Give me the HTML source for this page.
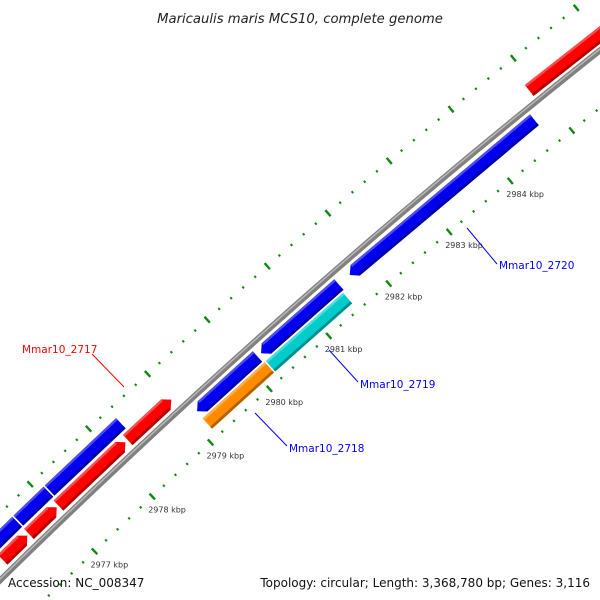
<!DOCTYPE html>
<html><head><meta charset="utf-8"><style>
html,body{margin:0;padding:0;background:#fff;width:600px;height:600px;overflow:hidden}
svg{display:block;overflow:hidden;font-family:"DejaVu Sans","Liberation Sans",sans-serif}
</style></head><body>
<svg id="map" width="600" height="600" viewBox="0 0 600 600" xmlns="http://www.w3.org/2000/svg">
<text x="300" y="23" text-anchor="middle" font-size="13.2" font-style="italic" fill="#222">Maricaulis maris MCS10, complete genome</text>
<g id="ticks"></g>
<g id="backbone"></g>
<g id="genes"></g>
<g>
<line x1="92" y1="354" x2="124" y2="387" stroke="#f00" stroke-width="1"/>
<text x="22" y="353" font-size="10.5" fill="#f00">Mmar10_2717</text>
<line x1="255" y1="413" x2="287" y2="446" stroke="#00f" stroke-width="1"/>
<text x="289" y="452" font-size="10.5" fill="#00f">Mmar10_2718</text>
<line x1="329" y1="350" x2="358" y2="382" stroke="#00f" stroke-width="1"/>
<text x="360" y="388" font-size="10.5" fill="#00f">Mmar10_2719</text>
<line x1="467" y1="228" x2="497" y2="264" stroke="#00f" stroke-width="1"/>
<text x="499" y="269" font-size="10.5" fill="#00f">Mmar10_2720</text>
</g>
<rect x="0" y="570" width="600" height="30" fill="#fff" fill-opacity="0"/>
<text x="8" y="587" font-size="12" fill="#111">Accession: NC_008347</text>
<text x="590" y="587" font-size="12" fill="#111" text-anchor="end">Topology: circular; Length: 3,368,780 bp; Genes: 3,116</text>
</svg>
<script>
// data (kbp)
const tickMajors = [2975, 2976, 2977, 2978, 2979, 2980, 2981, 2982, 2983, 2984, 2985, 2986];
const tickLabels = ["","","2977 kbp","2978 kbp","2979 kbp","2980 kbp","2981 kbp","2982 kbp","2983 kbp","2984 kbp","",""];
const geneStarts = [2976.10, 2976.56, 2977.07, 2978.26, 2984.90, 2975.00, 2976.58, 2977.12, 2979.14, 2980.22, 2981.70, 2979.13, 2980.20];
const geneEnds   = [2976.53, 2977.04, 2978.22, 2979.00, 2988.00, 2976.56, 2977.10, 2978.34, 2980.16, 2981.52, 2984.72, 2980.18, 2981.49];
const geneRows   = [13, 13, 13, 13, 13, 30, 30, 30, -13, -13, -13, -29, -29];
const geneStrand = [1, 1, 1, 1, 1, 0, 0, 0, -1, -1, -1, 0, 0];
const geneColors = ["#ff0000","#ff0000","#ff0000","#ff0000","#ff0000","#0000ee","#0000ee","#0000ee","#0000ee","#0000ee","#0000ee","#ff8c00","#00cccc"];
const geneNames  = ["gene-red-1","gene-red-2","gene-red-3","gene-mmar10-2717","gene-red-top","gene-blue-outer-1","gene-blue-outer-2","gene-blue-outer-3","gene-blue-lower","gene-blue-middle","gene-mmar10-2720","gene-mmar10-2718","gene-mmar10-2719"];

const NS = "http://www.w3.org/2000/svg";
const CX = 5328, CY = 6007, R0 = 7605;
function phi(k){ return (-132 + (k - 2980) * 0.603) * Math.PI / 180; }
function pt(k, r){ const a = phi(k); return [CX + r * Math.cos(a), CY + r * Math.sin(a)]; }
function mk(tag, attrs){ const e = document.createElementNS(NS, tag); for (const k in attrs) e.setAttribute(k, attrs[k]); return e; }
function arcPath(k1, k2, r){ let d = ""; const n = 24; for (let i = 0; i <= n; i++){ const p = pt(k1 + (k2 - k1) * i / n, r); d += (i ? "L" : "M") + p[0].toFixed(2) + "," + p[1].toFixed(2); } return d; }

// backbone
const bb = document.getElementById("backbone");
const b1 = mk("path", {d: arcPath(2974, 2988, R0), fill: "none", stroke: "#808080", "stroke-width": 6});


bb.appendChild(b1);
const b2 = mk("path", {d: arcPath(2974, 2988, R0 + 1), fill: "none", stroke: "#b8b8b8", "stroke-width": 1.5});


bb.appendChild(b2);

// ticks
const tg = document.getElementById("ticks");
const rings = [R0 - 45, R0 + 48];
rings.forEach(function(r, ri){
  tickMajors.forEach(function(m, mi){
    for (let j = 0; j < 5; j++){
      const k = m + j * 0.2;
      const h = j === 0 ? 4 : 1.2;
      const p1 = pt(k, r - h), p2 = pt(k, r + h);
      const l = mk("line", {x1: p1[0], y1: p1[1], x2: p2[0], y2: p2[1], stroke: "#118811", "stroke-width": j === 0 ? 2.4 : 2});
      
      
      tg.appendChild(l);
    }
    if (ri === 0 && tickLabels[mi]){
      const p = pt(m, r);
      const t = mk("text", {x: (p[0] - 4).toFixed(1), y: (p[1] + 16).toFixed(1), "font-size": 8, fill: "#333"});
      t.textContent = tickLabels[mi];
      
      
      tg.appendChild(t);
    }
  });
});

// genes
const gg = document.getElementById("genes");
function shade(c, f){ const n = parseInt(c.slice(1), 16); let r = n >> 16, g = (n >> 8) & 255, b = n & 255;
  if (f > 0){ r += (255 - r) * f; g += (255 - g) * f; b += (255 - b) * f; } else { r *= 1 + f; g *= 1 + f; b *= 1 + f; }
  return "rgb(" + Math.round(r) + "," + Math.round(g) + "," + Math.round(b) + ")"; }
geneStarts.forEach(function(s, i){
  const e = geneEnds[i], rc = R0 + geneRows[i], hw = 7, st = geneStrand[i];
  const ah = 0.09;
  let s2 = s, e2 = e;
  if (st === 1) e2 = e - ah; if (st === -1) s2 = s + ah;
  const pts = [];
  pts.push(pt(s2, rc + hw)); pts.push(pt(e2, rc + hw));
  if (st === 1) pts.push(pt(e, rc));
  pts.push(pt(e2, rc - hw)); pts.push(pt(s2, rc - hw));
  if (st === -1) pts.push(pt(s, rc));
  const d = "M" + pts.map(p => p[0].toFixed(2) + "," + p[1].toFixed(2)).join("L") + "Z";
  const g = mk("g", {});
  
  
  const body = mk("path", {d: d, fill: geneColors[i]});
  g.appendChild(body);
  const hl = mk("path", {d: "M" + pt(s2, rc + hw - 1.2).join(",") + "L" + pt(e2, rc + hw - 1.2).join(","), stroke: shade(geneColors[i], 0.3), "stroke-width": 2.4, fill: "none"});
  g.appendChild(hl);
  const dk = mk("path", {d: "M" + pt(s2, rc - hw + 1.4).join(",") + "L" + pt(e2, rc - hw + 1.4).join(","), stroke: shade(geneColors[i], -0.3), "stroke-width": 2.8, fill: "none"});
  g.appendChild(dk);
  gg.appendChild(g);
});
</script>
</body></html>
